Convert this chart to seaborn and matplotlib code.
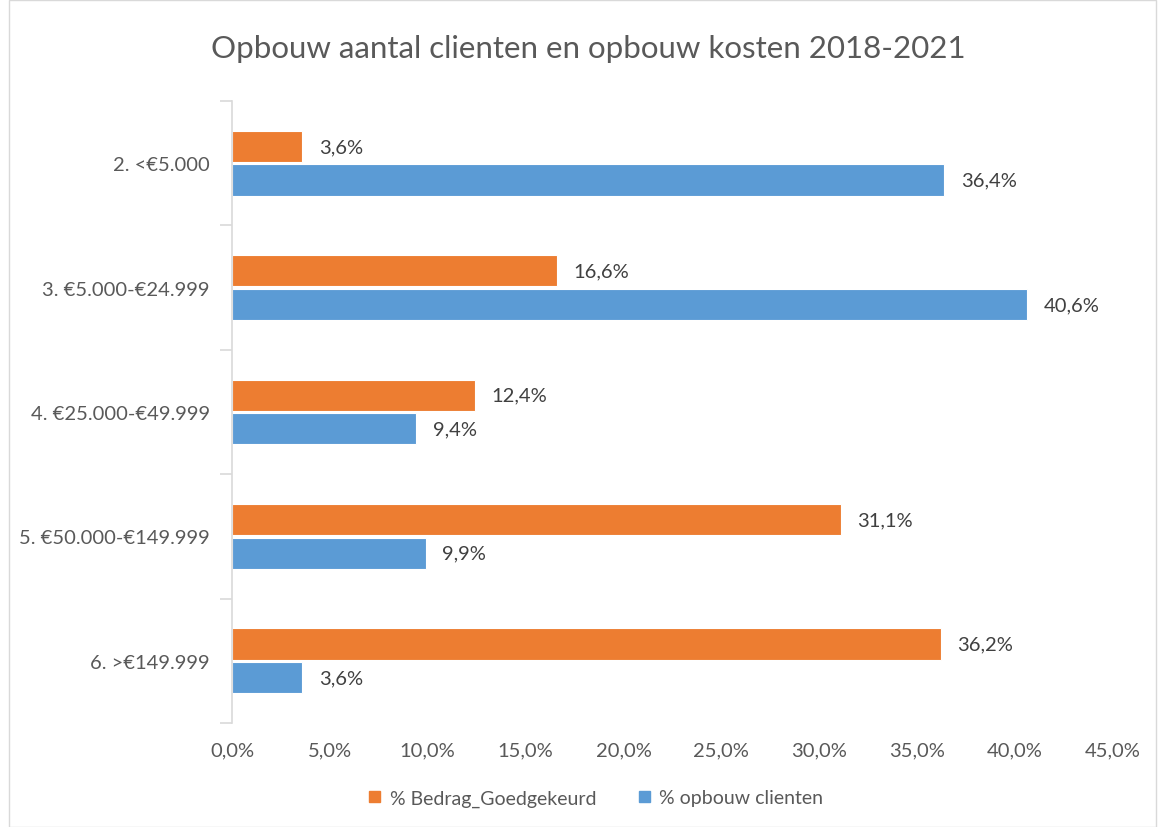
import matplotlib
matplotlib.use("Agg")
import matplotlib.pyplot as plt
import pandas as pd
import seaborn as sns
from matplotlib.patches import Rectangle

categories = ["2. <€5.000", "3. €5.000-€24.999", "4. €25.000-€49.999",
              "5. €50.000-€149.999", "6. >€149.999"]
bedrag_goedgekeurd = [3.6, 16.6, 12.4, 31.1, 36.2]
opbouw_clienten = [36.4, 40.6, 9.4, 9.9, 3.6]
series_names = ["% Bedrag_Goedgekeurd", "% opbouw clienten"]
colors = ["#ED7D31", "#5B9BD5"]
x_ticks = [0, 5, 10, 15, 20, 25, 30, 35, 40, 45]

df = pd.DataFrame({
    "Categorie": categories * 2,
    "Serie": [series_names[0]] * len(categories) + [series_names[1]] * len(categories),
    "Waarde": bedrag_goedgekeurd + opbouw_clienten,
})

sns.set_style("white")
plt.rcParams["font.family"] = ["Lato", "DejaVu Sans"]

fig = plt.figure(figsize=(11.58, 8.28), dpi=100)
ax = fig.add_axes([0.2003, 0.1256, 0.7607, 0.7512])

sns.barplot(data=df, y="Categorie", x="Waarde", hue="Serie", order=categories,
            hue_order=series_names, palette=colors, saturation=1, orient="h",
            width=0.54, gap=0.07, errorbar=None, ax=ax, legend=False,
            edgecolor="white", linewidth=0.8)

# data labels
for container in ax.containers:
    ax.bar_label(container, labels=[f"{v:.1f}%".replace(".", ",") for v in container.datavalues],
                 padding=12, fontsize=14.5, color="#404040")

ax.set_xlim(0, 45)
ax.set_ylim(len(categories) - 0.5, -0.5)
ax.set_xticks(x_ticks)
ax.set_xticklabels([f"{t:.1f}%".replace(".", ",") for t in x_ticks])
ax.tick_params(axis="x", length=0, pad=13, labelsize=14.5, labelcolor="#595959")
ax.tick_params(axis="y", which="major", length=0, pad=16, labelsize=14.5, labelcolor="#595959")
ax.set_yticks([i + 0.5 for i in range(-1, len(categories))], minor=True)
ax.tick_params(axis="y", which="minor", left=True, length=9, color="#D9D9D9", width=1.2)
ax.set_xlabel("")
ax.set_ylabel("")

# only the left axis line remains
for side in ["top", "right", "bottom"]:
    ax.spines[side].set_visible(False)
ax.spines["left"].set_color("#D9D9D9")
ax.spines["left"].set_linewidth(1.2)

fig.suptitle("Opbouw aantal clienten en opbouw kosten 2018-2021", x=0.508, y=0.958,
             fontsize=22.5, color="#595959")

handles = [Rectangle((0, 0), 1, 1, color=c) for c in colors]
fig.legend(handles, series_names, loc="center", bbox_to_anchor=(0.515, 0.035), ncol=2,
           frameon=False, fontsize=14, labelcolor="#595959", handlelength=0.55,
           handleheight=0.55, handletextpad=0.5, columnspacing=2.2)

# chart area border
fig.patches.append(Rectangle((0.008, 0.0), 0.99, 0.999, transform=fig.transFigure,
                             fill=False, edgecolor="#D9D9D9", linewidth=1))

fig.savefig("out.png", dpi=100)
